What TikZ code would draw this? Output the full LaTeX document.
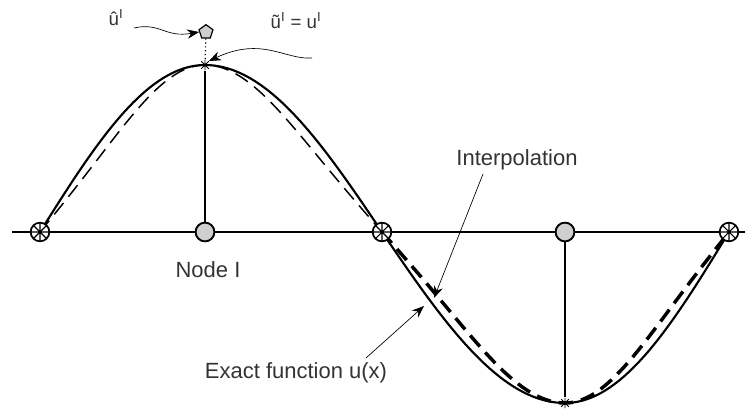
\documentclass[tikz,border=0pt]{standalone}
\usepackage{fontspec}
\setmainfont{Liberation Sans}
\usetikzlibrary{arrows.meta,shapes.geometric}
\definecolor{nodegray}{HTML}{cfcfcf}
\definecolor{txtgray}{HTML}{333333}

\begin{document}
\begin{tikzpicture}[x=0.75pt,y=-0.75pt,
  gaussnode/.style={circle,draw,line width=1.3pt,fill=nodegray,minimum size=14pt,inner sep=0pt},
  starnode/.style={circle,draw,line width=1.3pt,fill=white,minimum size=14pt,inner sep=0pt,
    path picture={\draw[line width=0.8pt] (path picture bounding box.north) -- (path picture bounding box.south)
      (path picture bounding box.east) -- (path picture bounding box.west)
      (path picture bounding box.north east) -- (path picture bounding box.south west)
      (path picture bounding box.north west) -- (path picture bounding box.south east);}},
  tipmark/.style={circle,minimum size=8pt,inner sep=0pt,
    path picture={\draw[line width=0.6pt] (path picture bounding box.north) -- (path picture bounding box.south)
      (path picture bounding box.east) -- (path picture bounding box.west)
      (path picture bounding box.north east) -- (path picture bounding box.south west)
      (path picture bounding box.north west) -- (path picture bounding box.south east);}},
  lbl/.style={text=txtgray,font=\fontsize{16.5}{20}\selectfont,inner sep=1pt},
  smalllbl/.style={text=txtgray,font=\fontsize{14}{16}\selectfont,inner sep=1pt},
  leader/.style={line width=0.5pt,-{Stealth[length=9pt,width=7pt]}},
  exact/.style={line width=1.6pt},
  interp/.style={dash pattern=on 11pt off 6pt}]
  \useasboundingbox (0,0) rectangle (745,410);
  % axis
  \coordinate (axl) at (12,232);
  \coordinate (axr) at (745,232);
  \draw[line width=1pt] (axl) -- (axr);
  % exact function (quarter waves)
  \draw[exact] plot[domain=40:205,samples=40] (\x,{232-167*sin(((\x-40)/165)*90)})
    -- plot[domain=205:382,samples=40] (\x,{232-167*sin(((382-\x)/177)*90)})
    -- plot[domain=382:565,samples=40] (\x,{232+171*sin(((\x-382)/183)*90)})
    -- plot[domain=565:729,samples=40] (\x,{232+171*sin(((729-\x)/164)*90)});
  % interpolation
  \draw[interp,line width=1.1pt] plot[domain=40:205,samples=40]
      (\x,{232-167*(sin(((\x-40)/165)*90)-0.06*sin(((\x-40)/165)*270))/1.06})
    -- plot[domain=205:382,samples=40]
      (\x,{232-167*(sin(((382-\x)/177)*90)-0.06*sin(((382-\x)/177)*270))/1.06});
  \draw[interp,line width=2.6pt] plot[domain=382:565,samples=40]
      (\x,{232+171*(sin(((\x-382)/183)*90)-0.06*sin(((\x-382)/183)*270))/1.06})
    -- plot[domain=565:729,samples=40]
      (\x,{232+171*(sin(((729-\x)/164)*90)-0.06*sin(((729-\x)/164)*270))/1.06});
  % nodal values
  \node[tipmark] (peak) at (205,65) {};
  \node[tipmark] (trough) at (565,403) {};
  \node[gaussnode] (nI) at (205,232) {};
  \node[gaussnode] (n4) at (565,232) {};
  \draw[line width=1pt] (peak) -- (nI);
  \draw[line width=1pt] (n4) -- (trough);
  \node[gaussnode] at (205,232) {};
  \node[gaussnode] at (565,232) {};
  \node[starnode] (n1) at (40,232) {};
  \node[starnode] (n3) at (382,232) {};
  \node[starnode] (n5) at (729,232) {};
  % labels
  \node[lbl] (nodelbl) at (208,270) {Node I};
  \node[lbl] (interlbl) at (517,160) {Interpolation};
  \node[lbl] (exactlbl) at (296,373) {Exact function u(x)};
  \coordinate (interend) at (434,298);
  \coordinate (exactend) at (424,306);
  \draw[leader] (483,174) -- (interend);
  \draw[leader] (366,358) -- (exactend);
  % nodal value above node I
  \node[regular polygon,regular polygon sides=5,draw,line width=0.9pt,fill=nodegray,
    minimum size=11pt,inner sep=0pt] (uhat) at (206,32) {};
  \draw[line width=0.9pt,dotted] (uhat) -- (peak);
  \node[smalllbl] (uhatlbl) at (116,18) {û\textsuperscript{I}};
  \node[smalllbl] (utillbl) at (296,21) {ũ\textsuperscript{I} = u\textsuperscript{I}};
  \draw[leader] (134,28) .. controls (160,22) and (165,38) .. (uhat.west);
  \draw[leader] (312,58) .. controls (285,60) and (262,36) .. (peak.north east);
\end{tikzpicture}
\end{document}
